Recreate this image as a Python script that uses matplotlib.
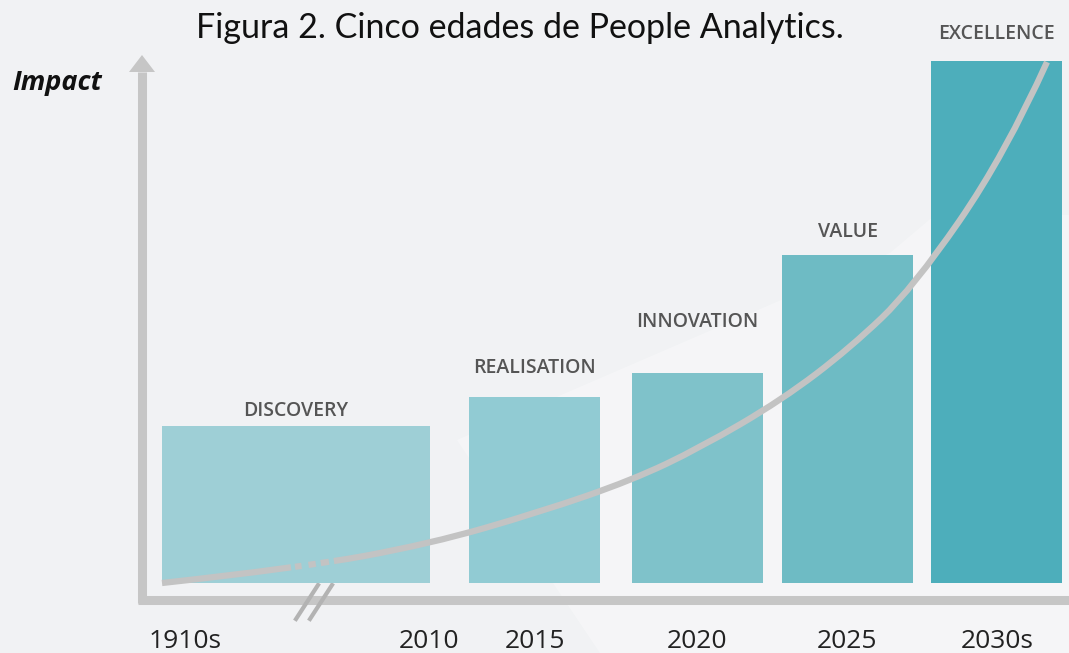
import numpy as np
import matplotlib
matplotlib.use("Agg")
import matplotlib.pyplot as plt
from matplotlib.patches import Polygon, PathPatch
from matplotlib.path import Path

# data
stages = ["DISCOVERY", "REALISATION", "INNOVATION", "VALUE", "EXCELLENCE"]
impact = [30, 35.6, 40.2, 62.8, 100]
years = ["1910s", "2010", "2015", "2020", "2025", "2030s"]
colors = ["#9ecfd6", "#91cbd3", "#7fc2ca", "#6ebbc4", "#4daebb"]

# growth curve (x on time axis, impact)
curve_x = [162, 300, 430, 540, 632, 700, 782, 850, 913, 1005, 1047]
curve_y = [0, 2.9, 7.5, 13.6, 19.7, 25.9, 35.1, 45.0, 56.5, 82.0, 99.8]

W, H = 1069, 653
S = 5.22          # pixels per impact unit
BASE = 583        # pixel row of zero impact

plt.rcParams['lines.scale_dashes'] = False


def yd(p):
    # pixel row from top -> data y
    return (BASE - p) / S


fig = plt.figure(figsize=(W / 100, H / 100), dpi=100)
fig.patch.set_facecolor("#f1f2f4")
ax = fig.add_axes([0, 0, 1, 1])
ax.set_xlim(0, W)
ax.set_ylim(yd(H), yd(0))
ax.axis("off")

# faint light band in the background
ax.add_patch(Polygon([(457, yd(440)), (890, yd(253)), (935, yd(215)), (W, yd(215)),
                      (W, yd(H)), (600, yd(H))], closed=True, fc="white", ec="none",
                     alpha=0.3, zorder=0))

# bars
lefts = [162, 469, 632, 782, 931]
rights = [430, 600, 763, 913, 1062]
label_gap = [15, 29, 51, 23, 27]
for i, name in enumerate(stages):
    w = rights[i] - lefts[i]
    ax.bar(lefts[i] + w / 2, impact[i], width=w, color=colors[i], zorder=2)
    ax.text(lefts[i] + w / 2, impact[i] + label_gap[i] / S, name, ha="center", va="center",
            fontsize=14, family="Open Sans", fontweight="semibold", color="#555555", zorder=3)

# axes (gray arrows)
gray = "#c6c6c6"
ax.plot([142, 142], [yd(603), yd(72)], color=gray, lw=6.5, solid_capstyle="butt", zorder=1)
ax.add_patch(Polygon([(129, yd(72)), (155, yd(72)), (142, yd(55))], closed=True,
                     fc=gray, ec="none", zorder=1))
ax.plot([138, W + 5], [yd(600), yd(600)], color=gray, lw=6.5, solid_capstyle="butt", zorder=1)

# axis break marks
for dx in (0, 14):
    ax.plot([296 + dx, 318 + dx], [yd(619), yd(585)], color="#b3b3b3", lw=3, zorder=1)

# smooth curve: read points used as quadratic spline control points
pts = np.column_stack([curve_x, curve_y])
verts = [pts[0]]
codes = [Path.MOVETO]
for i in range(1, len(pts) - 1):
    end = pts[i + 1] if i == len(pts) - 2 else (pts[i] + pts[i + 1]) / 2
    verts += [pts[i], end]
    codes += [Path.CURVE3, Path.CURVE3]
px = 0.72  # points per pixel
dash = [130 * px, 4 * px, 6.6 * px, 7 * px, 7.4 * px, 5 * px, 8.3 * px, 5 * px, 2000]
ax.add_patch(PathPatch(Path(verts, codes), fc="none", ec="#c3c3c3", lw=4.5,
                       linestyle=(0, dash), capstyle="butt", zorder=4))

# year labels
year_x = [185, 429, 535, 697, 847, 997]
for x, t in zip(year_x, years):
    ax.text(x, yd(642), t, ha="center", va="center", fontsize=19, family="Open Sans",
            color="#222222")

ax.text(12, yd(83), "Impact", ha="left", va="center", fontsize=19.5, family="Open Sans",
        fontweight="bold", fontstyle="italic", color="#111111")

ax.text(520, yd(28), "Figura 2. Cinco edades de People Analytics.", ha="center", va="center",
        fontsize=24.5, family="Lato", color="#111111")

fig.savefig("out.png", dpi=100, facecolor=fig.get_facecolor())
